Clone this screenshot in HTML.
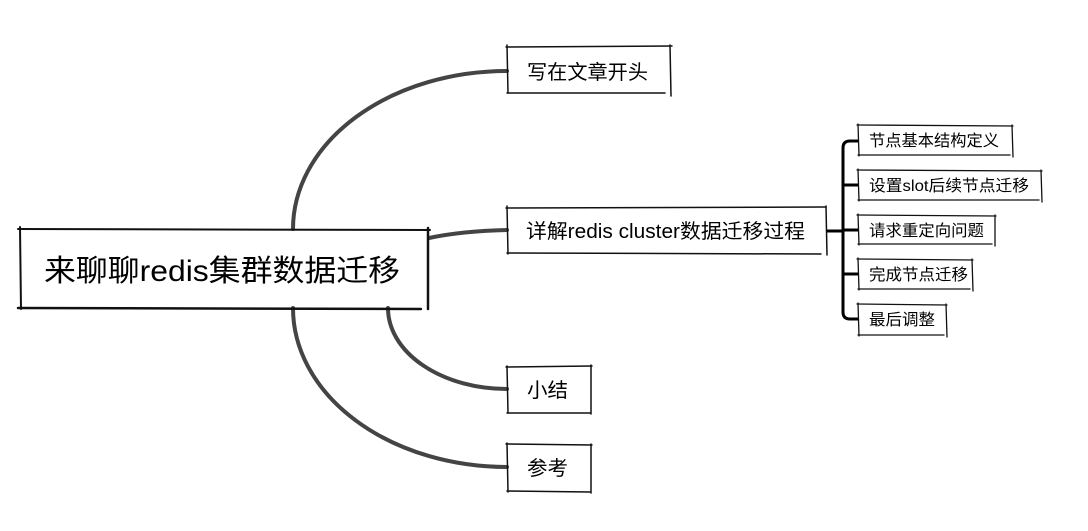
<!DOCTYPE html>
<html><head><meta charset="utf-8"><style>
html,body{margin:0;padding:0;background:#fff;}
svg{display:block;}
text{font-family:"Liberation Sans","Noto Sans CJK SC",sans-serif;fill:#000;}
</style></head><body>
<svg width="1088" height="531" viewBox="0 0 1088 531" xmlns="http://www.w3.org/2000/svg">
<g fill="none" stroke="#444" stroke-width="4" stroke-linecap="round">
<path d="M293,229 A214,158 0 0 1 507,71"/>
<path d="M429,238 Q462,231 507,230"/>
<path d="M388,308 A119,81 0 0 0 507,389"/>
<path d="M293,308 A214,159 0 0 0 507,467"/>
</g>
<g fill="none" stroke="#000" stroke-width="3">
<path d="M827,231 L843,231"/>
<path d="M858,141 L850,141 Q843,141 843,148 L843,312 Q843,319 850,319 L858,319"/>
<path d="M843,185 L858,185"/>
<path d="M843,230 L858,230"/>
<path d="M843,274 L858,274"/>
</g>
<g fill="none" stroke="#111" stroke-linecap="round">
<!-- root -->
<path d="M18,229 L430,230" stroke-width="2"/>
<path d="M20,227 L21,309" stroke-width="2"/>
<path d="M428,228 L428,309" stroke-width="2.5"/>
<path d="M18,308 L421,309" stroke-width="2.5"/>
<!-- 写在文章开头 -->
<path d="M506,47 L672,46" stroke-width="1.5"/>
<path d="M507,45 L508,93" stroke-width="1.5"/>
<path d="M670,45 L671,96" stroke-width="1.5"/>
<path d="M507,93 L665,93" stroke-width="1.5"/>
<!-- 详解 -->
<path d="M506,208 L826,207" stroke-width="1.5"/>
<path d="M507,206 L508,254" stroke-width="1.5"/>
<path d="M826,206 L827,255" stroke-width="1.5"/>
<path d="M507,253 L821,254" stroke-width="1.5"/>
<!-- 小结 -->
<path d="M506,367 L592,366" stroke-width="1.5"/>
<path d="M507,366 L508,413" stroke-width="1.5"/>
<path d="M591,365 L591,414" stroke-width="1.5"/>
<path d="M507,413 L590,413" stroke-width="1.5"/>
<!-- 参考 -->
<path d="M506,444 L592,445" stroke-width="1.5"/>
<path d="M507,443 L508,492" stroke-width="1.5"/>
<path d="M591,444 L591,493" stroke-width="1.5"/>
<path d="M507,491 L590,492" stroke-width="1.5"/>
<!-- sub nodes -->
<path d="M857,125 L1013,126" stroke-width="1.3"/>
<path d="M858,124 L859,156" stroke-width="1.3"/>
<path d="M1012,125 L1013,157" stroke-width="1.3"/>
<path d="M858,155 L1010,155" stroke-width="1.3"/>

<path d="M857,170 L1042,171" stroke-width="1.3"/>
<path d="M858,169 L859,201" stroke-width="1.3"/>
<path d="M1041,170 L1042,202" stroke-width="1.3"/>
<path d="M858,200 L1039,200" stroke-width="1.3"/>

<path d="M857,215 L996,216" stroke-width="1.3"/>
<path d="M858,214 L859,245" stroke-width="1.3"/>
<path d="M995,215 L995,246" stroke-width="1.3"/>
<path d="M858,244 L992,244" stroke-width="1.3"/>

<path d="M857,259 L973,260" stroke-width="1.3"/>
<path d="M858,258 L859,290" stroke-width="1.3"/>
<path d="M972,259 L973,291" stroke-width="1.3"/>
<path d="M858,289 L970,289" stroke-width="1.3"/>

<path d="M857,304 L947,305" stroke-width="1.3"/>
<path d="M858,303 L859,336" stroke-width="1.3"/>
<path d="M946,304 L947,337" stroke-width="1.3"/>
<path d="M858,335 L944,335" stroke-width="1.3"/>
</g>
<text x="44" y="281" font-size="30" textLength="356" lengthAdjust="spacingAndGlyphs">来聊聊redis集群数据迁移</text>
<text x="527" y="79" font-size="20" textLength="121" lengthAdjust="spacingAndGlyphs">写在文章开头</text>
<text x="526" y="238" font-size="20" textLength="279" lengthAdjust="spacingAndGlyphs">详解redis cluster数据迁移过程</text>
<text x="527" y="397" font-size="20" textLength="41" lengthAdjust="spacingAndGlyphs">小结</text>
<text x="527" y="475" font-size="20" textLength="41" lengthAdjust="spacingAndGlyphs">参考</text>
<text x="869" y="146" font-size="16" textLength="130" lengthAdjust="spacingAndGlyphs">节点基本结构定义</text>
<text x="869" y="191" font-size="16" textLength="160" lengthAdjust="spacingAndGlyphs">设置slot后续节点迁移</text>
<text x="869" y="236" font-size="16" textLength="115" lengthAdjust="spacingAndGlyphs">请求重定向问题</text>
<text x="869" y="280" font-size="16" textLength="99" lengthAdjust="spacingAndGlyphs">完成节点迁移</text>
<text x="869" y="325" font-size="16" textLength="66" lengthAdjust="spacingAndGlyphs">最后调整</text>
</svg>
</body></html>
